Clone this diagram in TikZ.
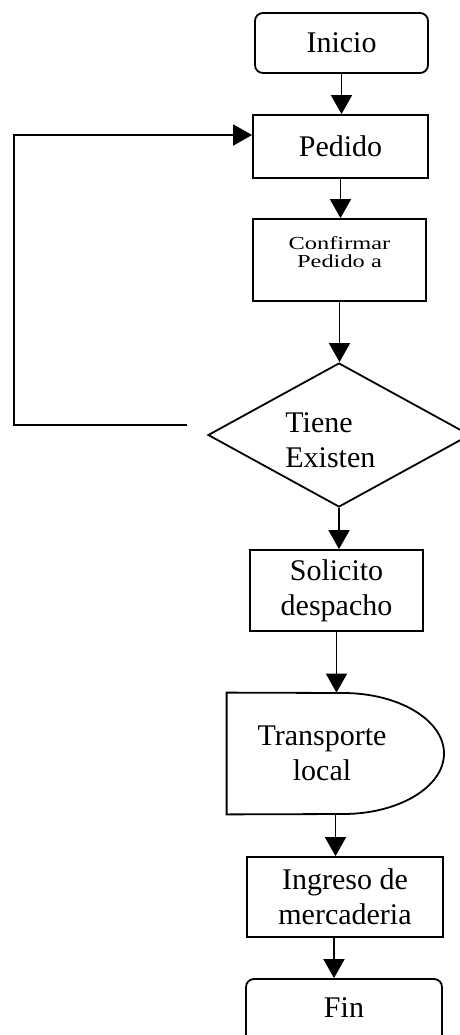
\documentclass[tikz,border=0pt]{standalone}
\usepackage{fontspec}
\setmainfont{Liberation Serif}
\usetikzlibrary{arrows.meta,shapes.geometric}
\begin{document}
\begin{tikzpicture}[x=0.5pt,y=-0.5pt,
  base/.style={draw, line width=0.9pt, inner sep=0pt, align=center,
    font=\fontsize{15}{17.5}\selectfont},
  roundbox/.style={base, rounded corners=4pt},
  sqbox/.style={base},
  txt/.style={inner sep=0pt, align=center, font=\fontsize{15}{17.5}\selectfont},
  arr/.style={line width=0.9pt, -{Triangle[length=9.5pt,width=10.5pt]}},
  line/.style={line width=0.9pt}]
\useasboundingbox (0,0) rectangle (460,1035);
\clip (0,0) rectangle (460,1035);

\node[roundbox, minimum width=86.5pt, minimum height=30pt] (inicio) at (341.5,43) {Inicio};
\node[sqbox, minimum width=87.5pt, minimum height=31.5pt] (pedido) at (340.5,146.5) {Pedido};
\node[sqbox, minimum width=86.5pt, minimum height=41pt] (confirmar) at (339.5,260) {};
\node[txt, font=\fontsize{12.2}{12}\selectfont, yscale=0.75, transform shape] (conftxt) at (339.5,252) {Confirmar\\Pedido a};
\node[draw, line width=0.9pt, shape=diamond, inner sep=0pt, minimum width=131pt, minimum height=72pt] (dia) at (339,435) {};
\node[txt, align=left, anchor=west] (diatxt) at (285,440) {Tiene\\Existen};
\node[sqbox, minimum width=86.5pt, minimum height=40.5pt] (solicito) at (336.5,590.5) {Solicito\\despacho};
\node[inner sep=0pt, minimum width=108.5pt, minimum height=60.5pt] (trans) at (335.5,753.5) {};
\draw[line] (trans.south west) -- (trans.north west) -- (343,693)
  arc[start angle=90, end angle=-90, x radius=50.5pt, y radius=30.25pt] -- cycle;
\node[txt] (transtxt) at (322,753) {Transporte\\local};
\node[sqbox, minimum width=98pt, minimum height=40pt] (ingreso) at (345,897) {Ingreso de\\mercaderia};
\node[roundbox, minimum width=98pt, minimum height=32pt] (fin) at (344,1011) {};
\node[txt] (fintxt) at (344,1008) {Fin};

\draw[arr] (inicio.south) -- (inicio.south |- pedido.north);
\draw[arr] (pedido.south) -- (pedido.south |- confirmar.north);
\draw[arr] (confirmar.south) -- (confirmar.south |- dia.north);
\draw[arr] (dia.south) -- (dia.south |- solicito.north);
\draw[arr] (solicito.south) -- (solicito.south |- trans.north);
\draw[arr] (trans.south) -- (trans.south |- ingreso.north);
\draw[arr] ([xshift=-5.5pt]ingreso.south) -- ([xshift=-5.5pt]ingreso.south |- fin.north);

\coordinate (loopA) at (187,425);
\coordinate (loopB) at (14,135);
\draw[arr] (loopA) -| (loopB) -- (loopB -| pedido.west);
\end{tikzpicture}
\end{document}
